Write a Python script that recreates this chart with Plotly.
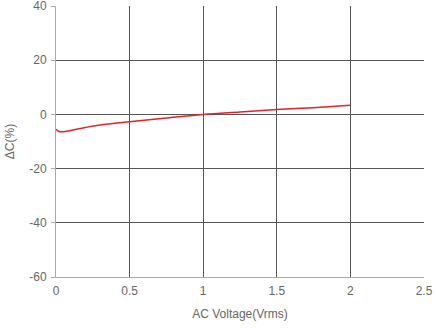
import plotly.graph_objects as go

voltage = [0.0, 0.02, 0.05, 0.1, 0.2, 0.3, 0.5, 0.7, 1.0, 1.25, 1.5, 1.75, 2.0]
delta_c = [-5.5, -6.3, -6.4, -5.9, -4.8, -3.9, -2.7, -1.6, 0.0, 0.9, 1.8, 2.5, 3.4]

x_ticks = [0, 0.5, 1, 1.5, 2, 2.5]
x_tick_labels = ["0", "0.5", "1", "1.5", "2", "2.5"]
y_ticks = [-60, -40, -20, 0, 20, 40]
y_tick_labels = ["-60", "-40", "-20", "0", "20", "40"]

fig = go.Figure()
fig.add_trace(go.Scatter(x=voltage, y=delta_c, mode="lines",
                         line=dict(color="#e8202a", width=1.5, shape="spline"),
                         showlegend=False))

font = dict(family="Liberation Sans, Arial, sans-serif", size=12, color="#666666")
fig.update_layout(
    width=436, height=328,
    margin=dict(l=56, r=12, t=6, b=51),
    paper_bgcolor="white", plot_bgcolor="white",
    font=font,
    xaxis=dict(range=[0, 2.5001], tickmode="array", tickvals=x_ticks, ticktext=x_tick_labels,
               showgrid=True, gridcolor="#555555", ticklabeloverflow="allow", automargin=False,
               gridwidth=1, zeroline=False, showline=True, linecolor="#aaaaaa",
               ticks="", ticklabelstandoff=3,
               title=dict(text="AC Voltage(Vrms)", standoff=12, font=font),
               tickfont=font),
    yaxis=dict(range=[-60, 40.01], tickmode="array", tickvals=y_ticks, ticktext=y_tick_labels,
               showgrid=True, gridcolor="#555555", ticklabeloverflow="allow", automargin=False,
               gridwidth=1, zeroline=False, showline=True, linecolor="#aaaaaa",
               ticks="outside", ticklen=4, tickcolor="#aaaaaa", ticklabelstandoff=2,
               title=dict(text="ΔC(%)", standoff=12, font=font), tickfont=font),
)
fig.write_html("out.html")
